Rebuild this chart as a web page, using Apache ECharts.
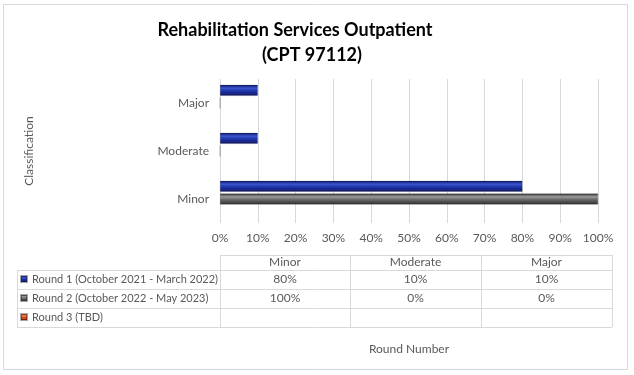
<!DOCTYPE html>
<html>
<head>
<meta charset="utf-8">
<script src="https://cdn.jsdelivr.net/npm/echarts@6/dist/echarts.min.js"></script>
<style>
  html, body { margin: 0; padding: 0; background: #fff; }
  #chart { width: 634px; height: 375px; }
</style>
</head>
<body>
<div id="chart"></div>
<script>
const categories = ['Minor', 'Moderate', 'Major']
const roundNames = [
  'Round 1 (October 2021 - March 2022)',
  'Round 2 (October 2022 - May 2023)',
  'Round 3 (TBD)'
]
const round1 = [80, 10, 10]
const round2 = [100, 0, 0]
const round3 = [null, null, null]
const xTicks = { min: 0, max: 100, interval: 10 }

const FONT = 'Lato, sans-serif'
const TXT = '#595959'
const GRID = '#d9d9d9'

// glossy look like the excel bars
const shade = (dark, mid, light) => new echarts.graphic.LinearGradient(0, 0, 0, 1, [
  { offset: 0, color: dark },
  { offset: 0.3, color: light },
  { offset: 0.55, color: mid },
  { offset: 1, color: dark }
])
const colors = [
  shade('#0c1660', '#1f35a8', '#3a55d0'),
  shade('#2e2e2e', '#6a6a6a', '#9a9a9a'),
  shade('#a8300c', '#e0501e', '#f08050')
]
const flat = ['#1f35a8', '#5f5f5f', '#e0501e']

// plot box
const plot = { left: 220, right: 598, top: 79, bottom: 223 }

// data table below the plot
const cols = [220, 350, 481, 612]
const rows = [255, 270, 289, 308, 327]
const tableLeft = 17

const table = []
const hline = (x1, x2, y) => table.push({ type: 'line', silent: true,
  shape: { x1, y1: y + 0.5, x2, y2: y + 0.5 }, style: { stroke: GRID, lineWidth: 1 } })
const vline = (x, y1, y2) => table.push({ type: 'line', silent: true,
  shape: { x1: x + 0.5, y1, x2: x + 0.5, y2 }, style: { stroke: GRID, lineWidth: 1 } })

hline(cols[0], cols[3], rows[0])
for (let r = 1; r < rows.length; r++) hline(tableLeft, cols[3], rows[r])
vline(tableLeft, rows[1], rows[4])
cols.forEach(x => vline(x, rows[0], rows[4]))

const cellText = (text, c, r) => table.push({ type: 'text', silent: true,
  style: { text, x: (cols[c] + cols[c + 1]) / 2, y: (rows[r] + rows[r + 1]) / 2,
    align: 'center', verticalAlign: 'middle', fill: TXT, font: '12px ' + FONT } })

categories.forEach((c, i) => cellText(c, i, 0))
const pct = v => (v == null ? '' : v + '%')
;[round1, round2, round3].forEach((vals, r) => vals.forEach((v, i) => cellText(pct(v), i, r + 1)))

const option = {
  animation: false,
  backgroundColor: '#fff',
  textStyle: { fontFamily: FONT },
  grid: { left: plot.left, right: 634 - plot.right, top: plot.top, bottom: 375 - plot.bottom, containLabel: false },
  xAxis: {
    type: 'value',
    min: xTicks.min, max: xTicks.max, interval: xTicks.interval,
    name: 'Round Number',
    nameLocation: 'middle',
    nameGap: 120,
    nameTextStyle: { color: TXT, fontSize: 12, fontFamily: FONT },
    axisLine: { show: false },
    axisTick: { show: false },
    axisLabel: { color: TXT, fontSize: 12, margin: 9, formatter: '{value}%' },
    splitLine: { show: true, lineStyle: { color: GRID } }
  },
  yAxis: {
    type: 'category',
    data: categories,
    name: 'Classification',
    nameLocation: 'middle',
    nameGap: 185,
    nameRotate: 90,
    nameTextStyle: { color: TXT, fontSize: 12, fontFamily: FONT },
    axisLine: { show: false },
    axisTick: { show: false },
    axisLabel: { color: TXT, fontSize: 12, margin: 11 }
  },
  legend: roundNames.map((n, i) => ({
    data: [n],
    left: 15,
    top: (rows[i + 1] + rows[i + 2]) / 2 - 11,
    itemWidth: 6,
    itemHeight: 6,
    icon: 'rect',
    selectedMode: false,
    textStyle: { color: TXT, fontSize: 11, fontFamily: FONT }
  })),
  series: [
    { name: roundNames[0], data: round1, ci: 0 },
    { name: roundNames[1], data: round2, ci: 1 },
    { name: roundNames[2], data: round3, ci: 2 }
  ].map(s => ({
    name: s.name,
    type: 'bar',
    data: s.data,
    barWidth: 11,
    barGap: '15%',
    color: flat[s.ci],
    itemStyle: { color: colors[s.ci], borderColor: 'rgba(0,0,0,0.35)', borderWidth: 0.5 }
  })),
  graphic: [
    { type: 'rect', silent: true, shape: { x: 3.5, y: 4.5, width: 624, height: 365 },
      style: { fill: 'none', stroke: GRID, lineWidth: 1 } },
    { type: 'text', silent: true, style: { text: 'Rehabilitation Services Outpatient', x: 295, y: 30,
      align: 'center', verticalAlign: 'middle', fill: '#000', font: 'bold 18px ' + FONT } },
    { type: 'text', silent: true, style: { text: '(CPT 97112)', x: 312, y: 55,
      align: 'center', verticalAlign: 'middle', fill: '#000', font: 'bold 18px ' + FONT } },
    ...table
  ]
}

const chart = echarts.init(document.getElementById('chart'))
chart.setOption(option)
</script>
</body>
</html>
